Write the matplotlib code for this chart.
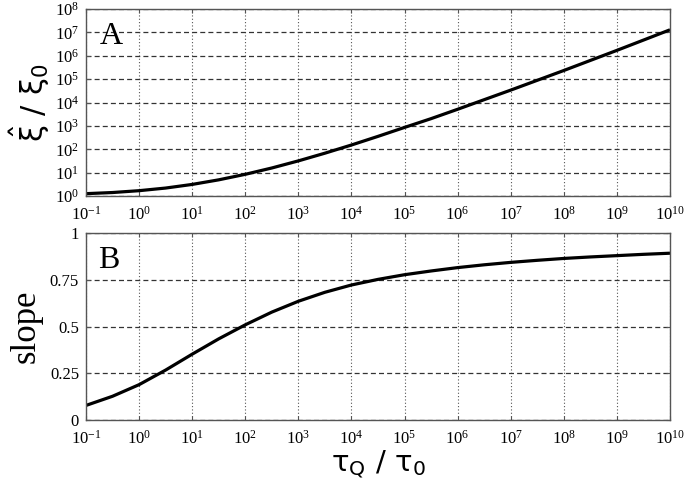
import matplotlib
matplotlib.use("Agg")
import matplotlib.pyplot as plt

# ---- data ----
tau = [1e-1, 10**-0.5, 1e0, 10**0.5, 1e1, 10**1.5, 1e2, 10**2.5, 1e3, 10**3.5,
       1e4, 10**4.5, 1e5, 10**5.5, 1e6, 10**6.5, 1e7, 10**7.5, 1e8, 10**8.5,
       1e9, 10**9.5, 1e10]
xi_ratio = [1.26, 1.41, 1.69, 2.19, 3.13, 4.92, 8.47, 15.8, 31.8, 67.9,
            152, 356, 859, 2040, 5130, 13200, 33900, 89100, 234000, 631000,
            1.70e6, 4.68e6, 1.29e7]
slope = [0.078, 0.127, 0.189, 0.267, 0.352, 0.434, 0.509, 0.577, 0.635, 0.683,
         0.722, 0.752, 0.777, 0.797, 0.815, 0.830, 0.843, 0.854, 0.864, 0.872,
         0.879, 0.886, 0.892]

x_ticks = [10.0**k for k in range(-1, 11)]
top_yticks = [10.0**k for k in range(0, 9)]
bot_yticks = [0, 0.25, 0.5, 0.75, 1]
bot_yticklabels = ["0", "0.25", "0.5", "0.75", "1"]

plt.rcParams['font.family'] = ['Liberation Serif', 'DejaVu Serif']
plt.rcParams['mathtext.default'] = 'regular'

fig = plt.figure(figsize=(6.85, 4.92), dpi=100)
ax1 = fig.add_axes([0.1255, 0.6016, 0.8526, 0.3801])
ax2 = fig.add_axes([0.1255, 0.1463, 0.8526, 0.3801])

spine_col = '#555555'
for ax in (ax1, ax2):
    for s in ax.spines.values():
        s.set_color(spine_col)
        s.set_linewidth(1.0)
    ax.set_xscale('log')
    ax.set_xlim(1e-1, 1e10)
    ax.set_xticks(x_ticks)
    ax.xaxis.set_minor_locator(matplotlib.ticker.NullLocator())
    ax.tick_params(axis='both', which='major', direction='in', length=3,
                   width=0.8, color=spine_col, labelsize=12, pad=5,
                   top=True, right=True)
    ax.tick_params(axis='x', pad=7)
    ax.xaxis.grid(True, linestyle=(0, (1, 2)), color='#555555', linewidth=0.8)

# top panel
ax1.plot(tau, xi_ratio, color='black', linewidth=2.3, solid_capstyle='butt')
ax1.set_yscale('log')
ax1.set_ylim(1, 1e8)
ax1.set_yticks(top_yticks)
ax1.yaxis.set_minor_locator(matplotlib.ticker.NullLocator())
ax1.yaxis.grid(True, linestyle=(0, (4, 2.5)), color='#333333', linewidth=0.9)
ax1.set_ylabel(r'$\hat{\xi}\ /\ \xi_0$', fontsize=22, family='DejaVu Sans')
ax1.yaxis.set_label_coords(-0.058, 0.5)
ax1.text(0.024, 0.813, 'A', transform=ax1.transAxes, fontsize=23,
         va='baseline', ha='left')

# bottom panel
ax2.plot(tau, slope, color='black', linewidth=2.3, solid_capstyle='butt')
ax2.set_ylim(0, 1)
ax2.set_yticks(bot_yticks)
ax2.set_yticklabels(bot_yticklabels)
ax2.yaxis.grid(True, linestyle=(0, (4, 2.5)), color='#333333', linewidth=0.9)
ax2.set_ylabel('slope', fontsize=25)
ax2.yaxis.set_label_coords(-0.075, 0.5)
ax2.set_xlabel(r'$\tau_Q\ /\ \tau_0$', fontsize=21, family='DejaVu Sans')
ax2.xaxis.set_label_coords(0.5, -0.15)
ax2.text(0.021, 0.813, 'B', transform=ax2.transAxes, fontsize=23,
         va='baseline', ha='left')

for ax in (ax1, ax2):
    for gl in ax.get_xgridlines() + ax.get_ygridlines():
        gl.set_zorder(0.5)

fig.savefig('out.png', dpi=100)
